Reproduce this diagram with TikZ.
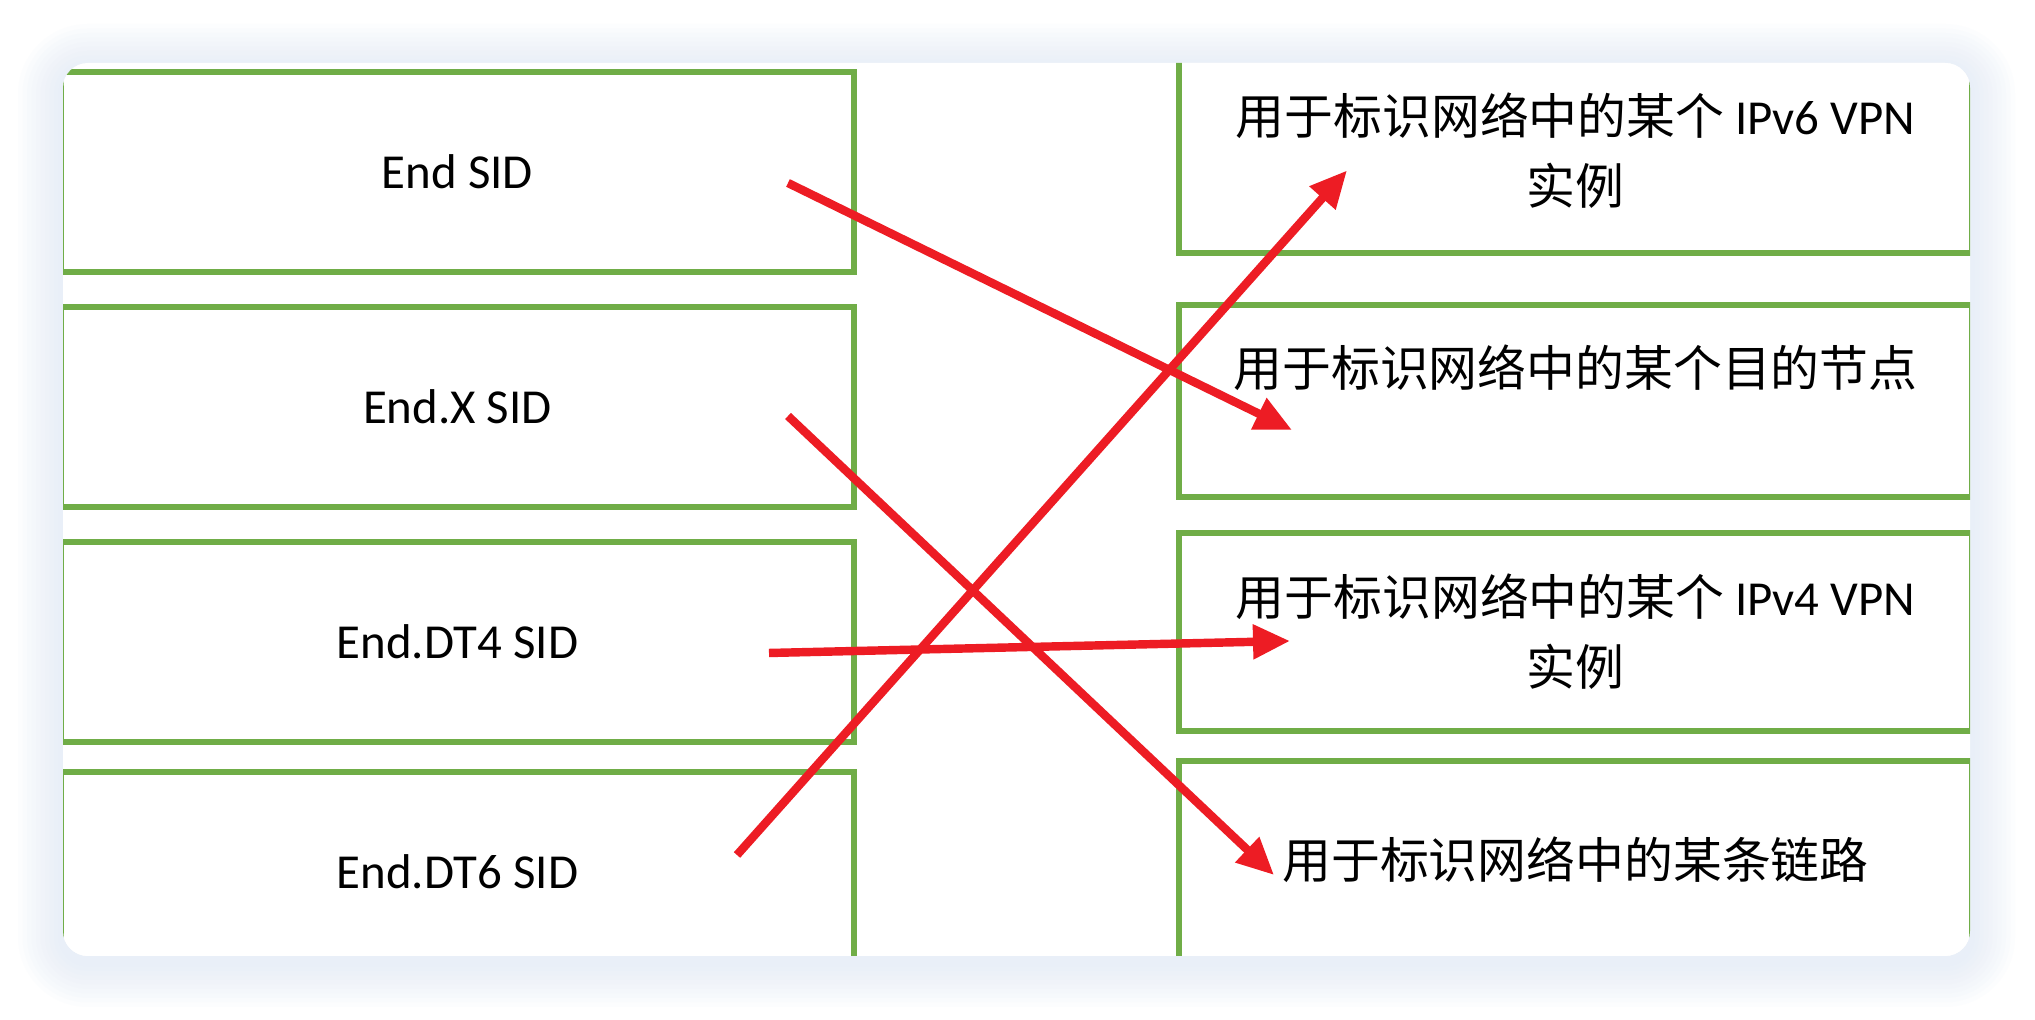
\documentclass[tikz,border=0pt]{standalone}
\usepackage{fontspec}
\setmainfont{Carlito}
\newfontfamily\cjk{Noto Sans CJK SC}
\usepackage{tikz}
\usetikzlibrary{arrows.meta, positioning}
\definecolor{boxgreen}{RGB}{112,173,71}
\definecolor{arrowred}{RGB}{237,28,36}
\definecolor{glowblue}{RGB}{222,232,248}
\tikzset{
  sidbox/.style={
    rectangle, draw=boxgreen, line width=1.9pt, fill=white,
    minimum width=7.93cm, minimum height=2cm, inner sep=0pt,
    outer sep=0pt, align=center,
    font=\fontsize{13.9pt}{19.9pt}\selectfont
  },
  descbox/.style={sidbox, font=\fontsize{13.9pt}{19.9pt}\selectfont\cjk},
  arr/.style={-{Triangle[length=0.37cm, width=0.33cm]}, draw=arrowred,
    line width=2.4pt}
}

\begin{document}
\begin{tikzpicture}[node distance=0.35cm]
  \useasboundingbox (0,0) rectangle (20.35,10.2);
  \fill[white] (0,0) rectangle (20.35,10.2);

  % soft glow round the card
  \foreach \g [evaluate=\g as \rad using 0.25+0.045*\g] in {10,...,1}
    \fill[glowblue, opacity=0.08, rounded corners=\rad cm]
      (0.63-0.045*\g, 0.58-0.045*\g) rectangle (19.70+0.045*\g, 9.51+0.045*\g);
  \fill[white, rounded corners=0.25cm] (0.63,0.64) rectangle (19.70,9.57);

  \begin{scope}
    \clip[rounded corners=0.25cm] (0.63,0.64) rectangle (19.70,9.57);
    % SID types
    \node[sidbox, anchor=north west] (sidend) at (0.61,9.48) {End SID};
    \node[sidbox, below=of sidend]   (sidx)      {End.X SID};
    \node[sidbox, below=of sidx]     (siddtfour) {End.DT4 SID};
    \node[sidbox, below=0.30cm of siddtfour] (siddtsix) {End.DT6 SID};

    % what each SID identifies
    \node[descbox, minimum height=2.05cm, anchor=north west] (dvpnsix) at (11.79,9.72)
      {用于标识网络中的某个 {\rmfamily IPv6 VPN}\\实例};
    \node[descbox, minimum height=1.92cm, below=0.52cm of dvpnsix] (dnode)
      {用于标识网络中的某个目的节点\\\mbox{}};
    \node[descbox, minimum height=1.98cm, below=0.36cm of dnode] (dvpnfour)
      {用于标识网络中的某个 {\rmfamily IPv4 VPN}\\实例};
    \node[descbox, minimum height=2.64cm, below=0.30cm of dvpnfour] (dlink)
      {用于标识网络中的某条链路\\\mbox{}};
  \end{scope}

  \draw[arr] ([shift={(-0.66,-0.11)}]sidend.east)    -- ([shift={(1.13,-0.29)}]dnode.west);
  \draw[arr] ([shift={(-0.66,-0.09)}]sidx.east)      -- ([shift={(0.95,0.18)}]dlink.west);
  \draw[arr] ([shift={(-0.85,-0.11)}]siddtfour.east) -- ([shift={(1.11,-0.09)}]dvpnfour.west);
  \draw[arr] ([shift={(-1.17,0.17)}]siddtsix.east)   -- ([shift={(1.68,-0.20)}]dvpnsix.west);
\end{tikzpicture}
\end{document}
